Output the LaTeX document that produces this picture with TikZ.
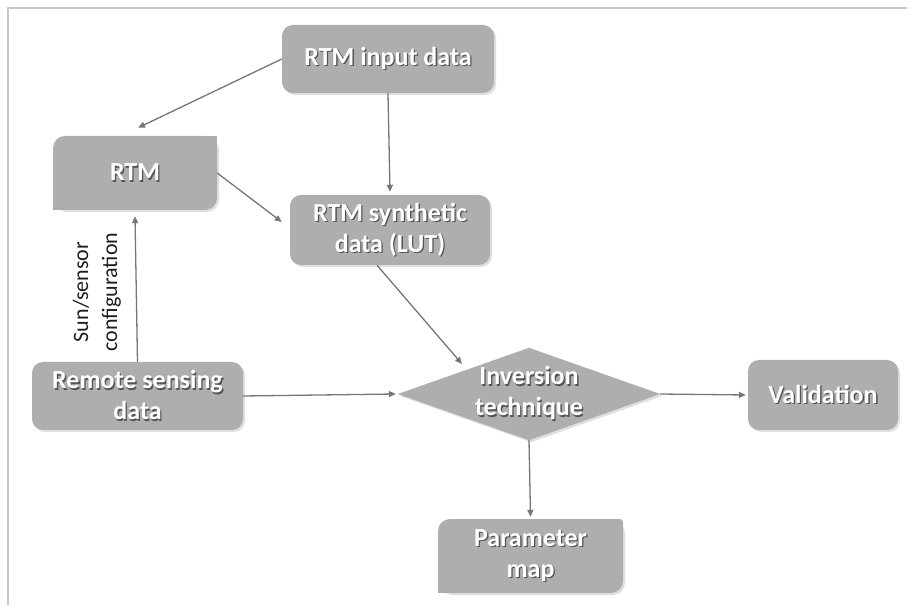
\documentclass[tikz,border=0pt]{standalone}
\usepackage{fontspec}
\setmainfont{Carlito}
\usetikzlibrary{arrows.meta,shadows,backgrounds,calc}
\definecolor{boxgray}{RGB}{174,174,174}
\definecolor{linegray}{RGB}{118,118,118}
\definecolor{framegray}{RGB}{200,200,200}
\definecolor{shadowgray}{RGB}{85,85,85}
\definecolor{labelgray}{RGB}{30,30,30}
\newcommand\shtxt[1]{\makebox[0pt][l]{\hspace{1.3pt}\raisebox{-1.3pt}{\color{shadowgray}#1}}#1}
\tikzset{
  boxtext/.style={text=white, font=\bfseries\fontsize{26}{31}\selectfont, align=center, inner sep=2pt},
  roundbox/.style={boxtext, rectangle, rounded corners=11pt, fill=boxgray,
    drop shadow={shadow xshift=2pt, shadow yshift=-2pt, opacity=0.25}},
  plainbox/.style={boxtext, rectangle},
  shapefill/.style={fill=boxgray, drop shadow={shadow xshift=2pt, shadow yshift=-2pt, opacity=0.25}},
  cornerpatch/.style={fill=boxgray},
  arr/.style={draw=linegray, line width=1.3pt, -{Triangle[length=7pt,width=6pt]}},
}
\begin{document}
\begin{tikzpicture}[x=1pt,y=1pt]
\useasboundingbox (0,0) rectangle (907,605);
% frame
\draw[framegray, line width=1.2pt] (8,0) -- (8,597) -- (907,597);

% nodes
\node[roundbox, minimum width=212pt, minimum height=68pt] (inp) at (388,546) {\shtxt{RTM input data}};
\node[roundbox, rounded corners=12pt, minimum width=164pt, minimum height=74pt] (rtm) at (135,432) {\shtxt{RTM}};
\node[roundbox, minimum width=200pt, minimum height=70pt] (lut) at (390,375) {\shtxt{RTM synthetic}\\\shtxt{data (LUT)}};
\node[roundbox, minimum width=211pt, minimum height=68pt] (rs) at (137.5,209) {\shtxt{Remote sensing}\\\shtxt{data}};
\node[plainbox, minimum width=262pt, minimum height=92pt] (inv) at (529,211) {\shtxt{Inversion}\\\shtxt{technique}};
\node[roundbox, minimum width=150pt, minimum height=70pt] (val) at (823,210) {\shtxt{Validation}};
\node[roundbox, rounded corners=12pt, minimum width=185pt, minimum height=74pt] (pm) at (530.5,49) {\shtxt{Parameter}\\\shtxt{map}};

\node[rotate=90, align=center, text=labelgray, font=\fontsize{22}{29}\selectfont] (lab) at (97,313) {Sun/sensor\\configuration};

% square corners (top right, bottom left) of the RTM and parameter map boxes
\fill[cornerpatch] (rtm.north east) rectangle ([xshift=-13pt,yshift=-13pt]rtm.north east);
\fill[cornerpatch] (rtm.south west) rectangle ([xshift=13pt,yshift=13pt]rtm.south west);
\fill[cornerpatch] (pm.south west) rectangle ([xshift=13pt,yshift=13pt]pm.south west);
\fill[cornerpatch] ([xshift=-4pt]pm.north east) rectangle ([xshift=-13pt,yshift=-13pt]pm.north east);
\fill[cornerpatch] ([yshift=-4pt]pm.north east) rectangle ([xshift=-13pt,yshift=-13pt]pm.north east);
\fill[cornerpatch] ([xshift=-4pt,yshift=-4pt]pm.north east) circle[radius=4pt];

% diamond behind its text
\begin{scope}[on background layer]
  \fill[shapefill] (inv.north) -- (inv.east) -- (inv.south) -- (inv.west) -- cycle;
\end{scope}

% connectors
\draw[arr] (inp.west) -- ([xshift=3pt,yshift=8pt]rtm.north);
\draw[arr] (inp.south) -- ([yshift=3pt]lut.north);
\draw[arr] (rtm.east) -- ([xshift=-8pt,yshift=8pt]lut.west);
\draw[arr] ([xshift=-13pt]lut.south) -- ([xshift=-67pt,yshift=30pt]inv.center);
\draw[arr] (rs.north) -- ([yshift=-6pt]rtm.south);
\draw[arr] (rs.east) -- ([xshift=-2pt]inv.west);
\draw[arr] (inv.east) -- ([xshift=-2pt]val.west);
\draw[arr] (inv.south) -- ([yshift=2pt]pm.north);
\end{tikzpicture}
\end{document}
